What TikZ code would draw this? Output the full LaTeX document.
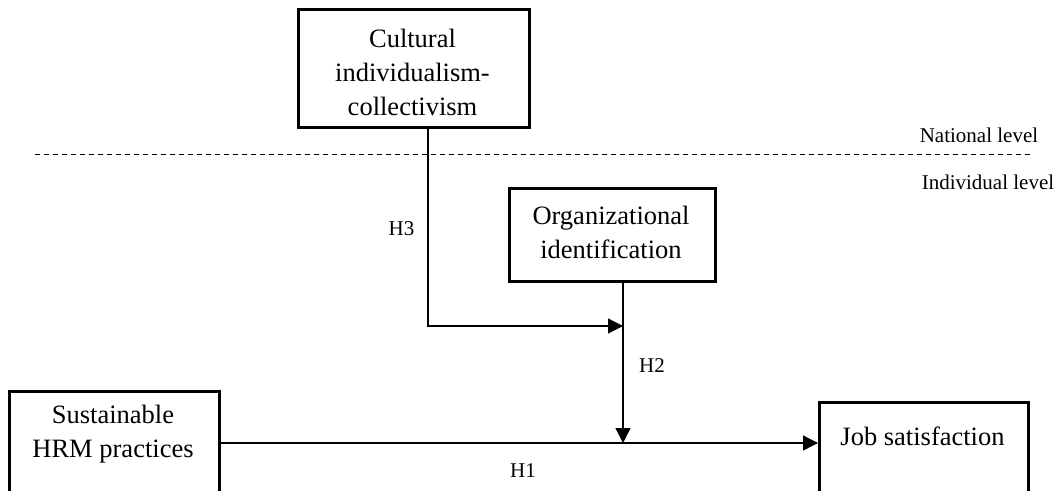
\documentclass[tikz,border=0pt]{standalone}
\usepackage{fontspec}
\setmainfont{Liberation Serif}
\usetikzlibrary{arrows.meta}
\begin{document}
\begin{tikzpicture}[x=1pt,y=-1pt,
  box/.style={draw,line width=2.6pt,rectangle,inner sep=0pt},
  boxtext/.style={align=center,font=\fontsize{26.5}{34}\selectfont,inner sep=0pt},
  lab/.style={font=\fontsize{21}{25}\selectfont,inner sep=0pt},
  conn/.style={line width=1.3pt,-{Triangle[length=15pt,width=15pt]}},
  plain/.style={line width=1.3pt}]
\useasboundingbox (0,0) rectangle (1059,490);
\clip (0,0) rectangle (1059,490);
% boxes
\node[box,minimum width=231pt,minimum height=118pt,anchor=north west] (cult) at (297,8) {};
\node[boxtext] (culttext) at (412.5,72) {Cultural\\individualism-\\collectivism};
\node[box,minimum width=206pt,minimum height=93pt,anchor=north west] (org) at (508,187) {};
\node[boxtext] (orgtext) at (611,232) {Organizational\\identification};
\node[box,minimum width=210pt,minimum height=120pt,anchor=north west] (hrm) at (8,390) {};
\node[boxtext] (hrmtext) at (113,434.5) {Sustainable\\HRM practices};
\node[box,minimum width=209pt,minimum height=110pt,anchor=north west] (job) at (818,401) {};
\node[boxtext] (jobtext) at (922.5,436) {Job satisfaction};
% level separator
\coordinate (dl) at (35,154);
\coordinate (dr) at (1030,154);
\draw[line width=1pt,dash pattern=on 5pt off 4pt] (dl) -- (dr);
\node[lab] (nat) at (979,135) {National level};
\node[lab] (ind) at (988,182) {Individual level};
% connectors
\coordinate (cx) at (428,0);
\coordinate (m) at (623,326);
\coordinate (p) at (623,443);
\draw[conn] (cult.south -| cx) |- (m);
\draw[conn] (org.south -| m) -- (p);
\draw[conn] (hrm.east |- p) -- (job.west |- p);
% hypothesis labels
\node[lab] (h3) at (401.5,229) {H3};
\node[lab] (h2) at (652,366) {H2};
\node[lab] (h1) at (523,471) {H1};
\end{tikzpicture}
\end{document}
